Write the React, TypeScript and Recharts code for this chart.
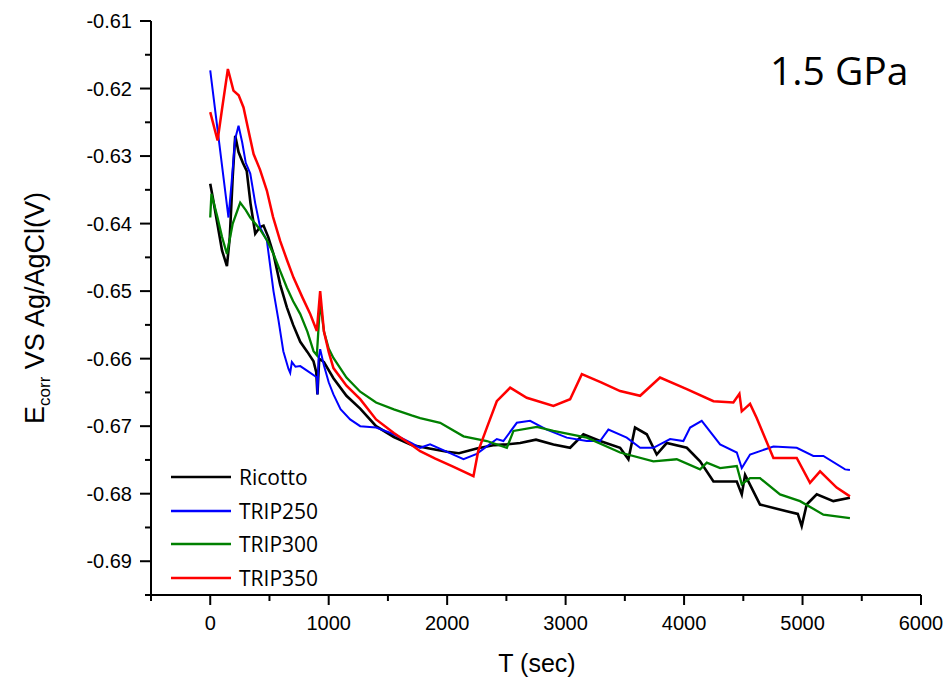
import React from 'react';
import { LineChart, Line, XAxis, YAxis, Legend, Label } from 'recharts';

// [time (s), Ecorr (V)]
const ricotto: [number, number][] = [
  [0, -0.6341], [20, -0.636], [60, -0.64], [100, -0.644], [141, -0.6463], [165, -0.642],
  [190, -0.633], [211, -0.627], [239, -0.6294], [275, -0.631], [308, -0.6322], [340, -0.637],
  [380, -0.6415], [420, -0.6405], [450, -0.6403], [490, -0.642], [534, -0.6445], [590, -0.649],
  [647, -0.6524], [700, -0.655], [760, -0.6575], [820, -0.659], [872, -0.6604], [895, -0.662],
  [905, -0.6653], [920, -0.66], [960, -0.6605], [1040, -0.6629], [1150, -0.6655], [1266, -0.6674],
  [1400, -0.67], [1550, -0.6716], [1700, -0.6728], [1850, -0.6733], [2000, -0.6738], [2100, -0.674],
  [2250, -0.6733], [2400, -0.6728], [2504, -0.6727], [2616, -0.6725], [2750, -0.672], [2897, -0.6727],
  [3038, -0.6732], [3150, -0.6712], [3291, -0.6722], [3460, -0.6732], [3530, -0.6749], [3586, -0.6702],
  [3685, -0.6712], [3769, -0.6742], [3853, -0.6725], [4023, -0.6732], [4135, -0.6752], [4248, -0.6782],
  [4445, -0.6782], [4487, -0.6801], [4515, -0.6772], [4641, -0.6816], [4866, -0.6826], [4960, -0.683],
  [4993, -0.6848], [5035, -0.6816], [5120, -0.6801], [5260, -0.6811], [5400, -0.6806],
];

const trip250: [number, number][] = [
  [0, -0.6173], [154, -0.6391], [180, -0.634], [210, -0.6275], [239, -0.6255], [270, -0.628],
  [300, -0.631], [338, -0.6326], [380, -0.637], [422, -0.6406], [478, -0.6425], [534, -0.65],
  [577, -0.6544], [617, -0.6589], [660, -0.6615], [675, -0.6621], [689, -0.6605], [720, -0.6612],
  [760, -0.6611], [820, -0.6618], [886, -0.6626], [900, -0.6628], [905, -0.6653], [915, -0.66],
  [928, -0.6586], [960, -0.661], [1000, -0.6635], [1040, -0.6653], [1100, -0.6675], [1181, -0.669],
  [1266, -0.67], [1400, -0.6702], [1550, -0.6712], [1700, -0.6725], [1772, -0.6732], [1856, -0.6727],
  [2000, -0.6738], [2138, -0.6749], [2250, -0.6741], [2419, -0.6719], [2475, -0.6722], [2588, -0.6695],
  [2700, -0.6692], [2841, -0.6705], [3010, -0.6717], [3179, -0.6722], [3291, -0.6722], [3361, -0.6705],
  [3516, -0.6717], [3629, -0.6732], [3741, -0.6732], [3882, -0.6719], [3994, -0.6722], [4051, -0.6702],
  [4149, -0.6692], [4304, -0.6727], [4445, -0.6739], [4487, -0.6762], [4557, -0.6742], [4754, -0.673],
  [4951, -0.6732], [5091, -0.6744], [5176, -0.6744], [5359, -0.6764], [5400, -0.6765],
];

const trip300: [number, number][] = [
  [0, -0.6391], [10, -0.6356], [60, -0.639], [100, -0.642], [141, -0.6445], [190, -0.64],
  [253, -0.6369], [300, -0.638], [338, -0.6391], [380, -0.64], [422, -0.6409], [480, -0.6425],
  [534, -0.6445], [590, -0.647], [647, -0.6495], [700, -0.6515], [760, -0.6534], [820, -0.656],
  [872, -0.6589], [900, -0.6595], [928, -0.6515], [960, -0.656], [1000, -0.6585], [1040, -0.6599],
  [1150, -0.6628], [1266, -0.6649], [1400, -0.6665], [1550, -0.6675], [1700, -0.6684], [1772, -0.6688],
  [1941, -0.6695], [2138, -0.6715], [2335, -0.6722], [2504, -0.6732], [2560, -0.6707], [2757, -0.6701],
  [2897, -0.6707], [3179, -0.6717], [3460, -0.6739], [3741, -0.6752], [3938, -0.6749], [4135, -0.6764],
  [4192, -0.6754], [4304, -0.6762], [4445, -0.6759], [4487, -0.6786], [4557, -0.6777], [4641, -0.6777],
  [4810, -0.6801], [4979, -0.6811], [5176, -0.6831], [5400, -0.6836],
];

const trip350: [number, number][] = [
  [0, -0.6235], [62, -0.6277], [100, -0.623], [149, -0.6171], [196, -0.6203], [240, -0.621],
  [281, -0.6228], [320, -0.626], [366, -0.6297], [420, -0.632], [478, -0.6351], [530, -0.639],
  [591, -0.6426], [650, -0.6455], [703, -0.648], [780, -0.651], [844, -0.6534], [900, -0.6559],
  [928, -0.65], [960, -0.656], [1000, -0.659], [1040, -0.6614], [1150, -0.664], [1266, -0.666],
  [1400, -0.669], [1550, -0.671], [1700, -0.6728], [1772, -0.6737], [1900, -0.6748], [2050, -0.676],
  [2222, -0.6774], [2262, -0.6737], [2340, -0.67], [2419, -0.6663], [2532, -0.6643], [2672, -0.6658],
  [2897, -0.667], [3038, -0.666], [3137, -0.6623], [3300, -0.6635], [3460, -0.6648], [3629, -0.6655],
  [3797, -0.6628], [4023, -0.6645], [4248, -0.6663], [4416, -0.6665], [4467, -0.6652], [4487, -0.6678],
  [4557, -0.6667], [4613, -0.6688], [4754, -0.6747], [4951, -0.6747], [5063, -0.6784], [5148, -0.6767],
  [5288, -0.6791], [5400, -0.6804],
];

const xTicks = [-500, 0, 500, 1000, 1500, 2000, 2500, 3000, 3500, 4000, 4500, 5000, 5500, 6000];
const yTicks = [
  -0.695, -0.69, -0.685, -0.68, -0.675, -0.67, -0.665, -0.66, -0.655, -0.65,
  -0.645, -0.64, -0.635, -0.63, -0.625, -0.62, -0.615, -0.61,
];

const series = [
  { name: 'Ricotto', color: '#000000', width: 2.6, points: ricotto },
  { name: 'TRIP250', color: '#0000ff', width: 2, points: trip250 },
  { name: 'TRIP300', color: '#008000', width: 2.3, points: trip300 },
  { name: 'TRIP350', color: '#ff0000', width: 2.5, points: trip350 },
];

const tickFont = '"Liberation Sans", Arial, sans-serif';

const isMajor = (v: number, step: number) => Math.abs(v / step - Math.round(v / step)) < 1e-6;

const XTick = ({ x, y, payload }: any) => {
  const major = isMajor(payload.value, 1000);
  return (
    <g>
      <line x1={x} y1={y} x2={x} y2={y + (major ? 10 : 6)} stroke="#000" strokeWidth={2} />
      {major && payload.value >= 0 && (
        <text x={x} y={y + 35} textAnchor="middle" fontSize={20} fontFamily={tickFont} fill="#000">
          {payload.value}
        </text>
      )}
    </g>
  );
};

const YTick = ({ x, y, payload }: any) => {
  const major = isMajor(payload.value, 0.01);
  return (
    <g>
      <line x1={x - (major ? 11 : 6)} y1={y} x2={x} y2={y} stroke="#000" strokeWidth={2} />
      {major && (
        <text x={x - 19} y={y + 7} textAnchor="end" fontSize={20} fontFamily={tickFont} fill="#000">
          {payload.value.toFixed(2)}
        </text>
      )}
    </g>
  );
};

const YTitle = () => (
  <text
    x={44}
    y={308}
    transform="rotate(-90, 44, 308)"
    textAnchor="middle"
    fontSize={27}
    fontFamily={tickFont}
    fill="#000"
  >
    E
    <tspan fontSize={17} dy={6}>corr</tspan>
    <tspan dy={-6}> VS Ag/AgCl(V)</tspan>
  </text>
);

const XTitle = () => (
  <text x={537} y={672} textAnchor="middle" fontSize={25} fontFamily={tickFont} fill="#000">
    T (sec)
  </text>
);

const renderLegend = ({ payload }: any) => (
  <div style={{ fontFamily: '"Open Sans", sans-serif', fontSize: 21, color: '#000' }}>
    {(payload || []).map((entry: any) => (
      <div key={entry.value} style={{ display: 'flex', alignItems: 'center', height: 33.7 }}>
        <svg width={62} height={4} style={{ marginRight: 6 }}>
          <line x1={0} y1={2} x2={60} y2={2} stroke={entry.color} strokeWidth={2.5} />
        </svg>
        <span>{entry.value}</span>
      </div>
    ))}
  </div>
);

export default function App() {
  return (
    <div style={{ position: 'absolute', left: 0, top: 0, width: 949, height: 680, background: '#fff' }}>
      <LineChart width={949} height={680} margin={{ top: 21, right: 28, bottom: 0, left: 0 }}>
        <XAxis
          type="number"
          dataKey="t"
          domain={[-500, 6000]}
          ticks={xTicks}
          interval={0}
          allowDataOverflow
          height={85}
          tickSize={0}
          tickMargin={0}
          tickLine={false}
          tick={<XTick />}
          axisLine={{ stroke: '#000', strokeWidth: 2 }}
        >
          <Label content={<XTitle />} />
        </XAxis>
        <YAxis
          type="number"
          dataKey="v"
          domain={[-0.695, -0.61]}
          ticks={yTicks}
          interval={0}
          allowDataOverflow
          width={151}
          tickSize={0}
          tickMargin={0}
          tickLine={false}
          tick={<YTick />}
          axisLine={{ stroke: '#000', strokeWidth: 2 }}
        >
          <Label content={<YTitle />} />
        </YAxis>
        <Legend
          layout="horizontal"
          verticalAlign="middle"
          align="center"
          content={renderLegend}
          wrapperStyle={{ left: 171, top: 460, width: 'auto', height: 'auto' }}
        />
        {series.map((s) => (
          <Line
            key={s.name}
            name={s.name}
            data={s.points.map(([t, v]) => ({ t, v }))}
            dataKey="v"
            type="linear"
            stroke={s.color}
            strokeWidth={s.width}
            dot={false}
            activeDot={false}
            isAnimationActive={false}
          />
        ))}
      </LineChart>
      <div
        style={{
          position: 'absolute',
          left: 770,
          top: 50,
          fontFamily: '"Open Sans", sans-serif',
          fontSize: 39,
          lineHeight: '39px',
          color: '#000',
        }}
      >
        1.5 GPa
      </div>
    </div>
  );
}
